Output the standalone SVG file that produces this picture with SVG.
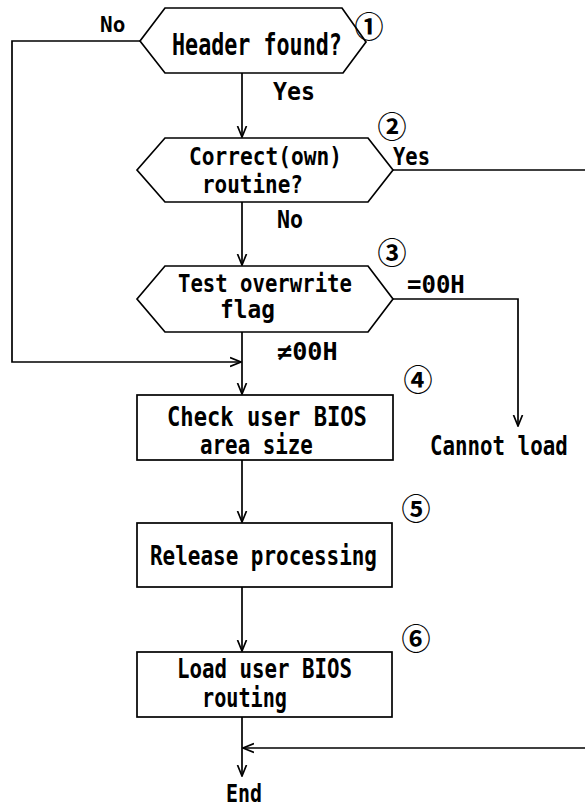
<svg xmlns="http://www.w3.org/2000/svg" width="585" height="809" viewBox="0 0 585 809">
<style>
.shape{fill:#fff;stroke:#000;stroke-width:1.7}
.line{fill:none;stroke:#000;stroke-width:1.7}
text{font-family:"DejaVu Sans Mono","Liberation Mono",monospace;font-weight:bold;fill:#000}
.num{font-family:"Noto Sans CJK JP","DejaVu Sans",sans-serif;font-weight:bold;font-size:29px;text-anchor:middle}
</style>
<defs>
<marker id="arr" viewBox="0 0 12 12" refX="11" refY="6" markerWidth="12" markerHeight="12" markerUnits="userSpaceOnUse" orient="auto">
<path d="M0,1.5 L11,6 L0,10.5" fill="none" stroke="#000" stroke-width="1.7"/>
</marker>
</defs>
<rect width="585" height="809" fill="#fff"/>
<g id="connectors">
<line class="line" x1="242" y1="73" x2="242" y2="137" marker-end="url(#arr)"/>
<line class="line" x1="242" y1="202" x2="242" y2="265" marker-end="url(#arr)"/>
<line class="line" x1="242" y1="332" x2="242" y2="394" marker-end="url(#arr)"/>
<line class="line" x1="242" y1="460" x2="242" y2="522" marker-end="url(#arr)"/>
<line class="line" x1="242" y1="587" x2="242" y2="651" marker-end="url(#arr)"/>
<line class="line" x1="242" y1="717" x2="242" y2="776" marker-end="url(#arr)"/>
<polyline class="line" points="140,41 12,41 12,362 241,362" marker-end="url(#arr)"/>
<polyline class="line" points="393,170 585,170"/>
<polyline class="line" points="393,299 518,299 518,426" marker-end="url(#arr)"/>
<polyline class="line" points="585,748 243,748" marker-end="url(#arr)"/>
<text x="100" y="32" font-size="21">No</text>
<text transform="translate(273,100) scale(0.97,1)" font-size="24">Yes</text>
<text transform="translate(393,165) scale(0.855,1)" font-size="24">Yes</text>
<text transform="translate(277,228) scale(0.9,1)" font-size="24">No</text>
<text x="407" y="293" font-size="24">=00H</text>
<text transform="translate(277,360) scale(1.05,1)" font-size="24">≠00H</text>
</g>
<g id="n1">
<polygon class="shape" points="140,41 165,8 342,8 366,42 343,73 165,73"/>
<text transform="translate(172,55) scale(0.724,1)" font-size="30">Header found?</text>
<text class="num" x="369" y="38">①</text>
</g>
<g id="n2">
<polygon class="shape" points="137,170 165,138 368,138 393,170 368,202 165,202"/>
<text transform="translate(189,165) scale(0.847,1)" font-size="25">Correct(own)</text>
<text transform="translate(202,193) scale(0.839,1)" font-size="25">routine?</text>
<text class="num" x="392" y="138">②</text>
</g>
<g id="n3">
<polygon class="shape" points="137,299 165,266 368,266 393,299 368,332 165,332"/>
<text transform="translate(178,292) scale(0.86,1)" font-size="24">Test overwrite</text>
<text transform="translate(220,318) scale(0.95,1)" font-size="24">flag</text>
<text class="num" x="392" y="264">③</text>
</g>
<g id="n4">
<rect class="shape" x="137" y="395" width="256" height="65"/>
<text transform="translate(167,426) scale(0.852,1)" font-size="26">Check user BIOS</text>
<text transform="translate(200,454) scale(0.802,1)" font-size="26">area size</text>
<text class="num" x="418" y="391">④</text>
</g>
<g id="n-cannot">
<text transform="translate(430,455) scale(0.8,1)" font-size="26">Cannot load</text>
</g>
<g id="n5">
<rect class="shape" x="137" y="523" width="255" height="64"/>
<text transform="translate(150,565) scale(0.776,1)" font-size="27">Release processing</text>
<text class="num" x="416" y="520">⑤</text>
</g>
<g id="n6">
<rect class="shape" x="137" y="652" width="255" height="65"/>
<text transform="translate(177,678) scale(0.799,1)" font-size="26">Load user BIOS</text>
<text transform="translate(202,707) scale(0.776,1)" font-size="26">routing</text>
<text class="num" x="416" y="650">⑥</text>
</g>
<g id="n-end">
<text transform="translate(226,802) scale(0.83,1)" font-size="24">End</text>
</g>
</svg>
